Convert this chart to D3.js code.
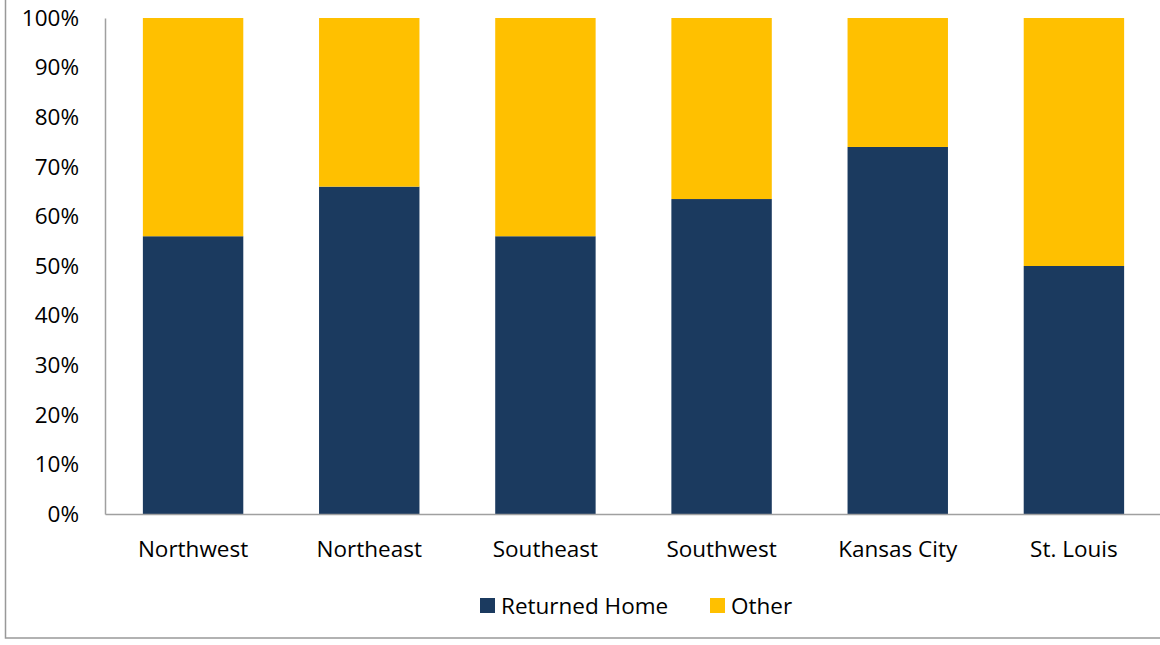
<!DOCTYPE html>
<html>
<head>
<meta charset="utf-8">
<script src="https://cdn.jsdelivr.net/npm/d3@7"></script>
<style>
  body { margin: 0; background: #fff; }
  svg { display: block; font-family: "Open Sans", Lato, sans-serif; }
</style>
</head>
<body>
<svg id="chart" width="1160" height="645"></svg>
<script>
// data
const regions = ["Northwest", "Northeast", "Southeast", "Southwest", "Kansas City", "St. Louis"];
const returnedHome = [56, 66, 56, 63.5, 74, 50];
const other = returnedHome.map(v => 100 - v);
const seriesNames = ["Returned Home", "Other"];
const seriesColors = ["#1b3a5f", "#ffc000"];
const yTicks = [0, 10, 20, 30, 40, 50, 60, 70, 80, 90, 100];

const svg = d3.select("#chart");
const font = "'Open Sans', Lato, sans-serif";
const fontSize = 22.5;

// outer frame
svg.append("rect")
  .attr("x", 5.5).attr("y", -5)
  .attr("width", 1170).attr("height", 643)
  .attr("fill", "none")
  .attr("stroke", "#999")
  .attr("stroke-width", 1.5);

const plotLeft = 105, plotRight = 1162, plotTop = 18, plotBottom = 514;

const x = d3.scaleBand()
  .domain(regions)
  .range([plotLeft, plotRight])
  .paddingInner(0.43)
  .paddingOuter(0.215);

const y = d3.scaleLinear().domain([0, 100]).range([plotBottom, plotTop]);

const table = regions.map((r, i) => ({ region: r, "Returned Home": returnedHome[i], "Other": other[i] }));
const stacked = d3.stack().keys(seriesNames)(table);

svg.append("g")
  .selectAll("g")
  .data(stacked)
  .join("g")
  .attr("fill", (d, i) => seriesColors[i])
  .selectAll("rect")
  .data(d => d)
  .join("rect")
  .attr("x", d => x(d.data.region))
  .attr("width", x.bandwidth())
  .attr("y", d => y(d[1]))
  .attr("height", d => y(d[0]) - y(d[1]));

// y axis
const yAxis = svg.append("g")
  .attr("transform", "translate(" + plotLeft + ",0)")
  .call(d3.axisLeft(y).tickValues(yTicks).tickSize(0).tickPadding(26).tickFormat(d => d + "%"));
yAxis.select(".domain").attr("stroke", "#a0a0a0").attr("stroke-width", 1.5);
yAxis.selectAll("text").attr("font-size", fontSize).attr("fill", "#000").attr("font-family", font);

// x axis
const xAxis = svg.append("g")
  .attr("transform", "translate(0," + plotBottom + ")")
  .call(d3.axisBottom(x).tickSize(0).tickPadding(27));
xAxis.select(".domain").attr("stroke", "#a0a0a0").attr("stroke-width", 1.5);
xAxis.selectAll("text").attr("font-size", fontSize).attr("fill", "#000").attr("font-family", font);

// legend
const legendX = [480, 710];
const legend = svg.append("g");
seriesNames.forEach((name, i) => {
  legend.append("rect")
    .attr("x", legendX[i]).attr("y", 598)
    .attr("width", 15).attr("height", 15)
    .attr("fill", seriesColors[i]);
  legend.append("text")
    .attr("x", legendX[i] + 21).attr("y", 614)
    .attr("font-size", fontSize)
    .attr("font-family", font)
    .attr("fill", "#000")
    .text(name);
});
</script>
</body>
</html>
